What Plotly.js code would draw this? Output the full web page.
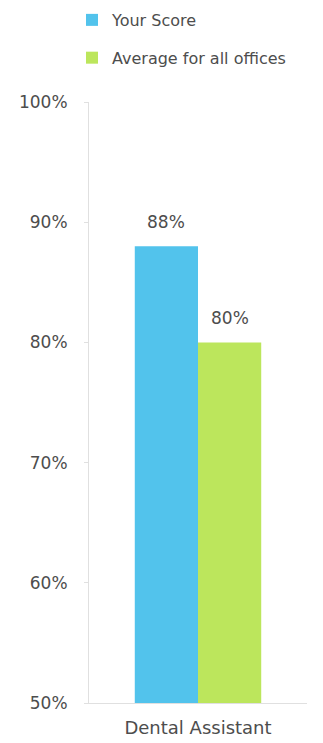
<!DOCTYPE html>
<html>
<head>
<meta charset="utf-8">
<script src="https://cdn.plot.ly/plotly-3.0.1.min.js"></script>
<style>html,body{margin:0;padding:0;background:#fff;}#chart{width:323px;height:743px;}</style>
</head>
<body>
<div id="chart"></div>
<script>
const categories = ["Dental Assistant"];
const seriesNames = ["Your Score", "Average for all offices"];
const yourScore = [88];
const averageAll = [80];
const yTickVals = [50, 60, 70, 80, 90, 100];
const yTickText = ["50%", "60%", "70%", "80%", "90%", "100%"];

const FONT = "'DejaVu Sans', sans-serif";
const TXT = "#4d4d4d";
const BARGAP = 0.42;
const PLOT_W = 323 - 89 - 16;
const halfBar = PLOT_W * (1 - BARGAP) / 4;

const traces = [
  {type: "bar", name: seriesNames[0], x: categories, y: yourScore,
   marker: {color: "#52C3EC"}, legendgroup: "a"},
  {type: "bar", name: seriesNames[1], x: categories, y: averageAll,
   marker: {color: "#BCE65C"}, legendgroup: "b"}
];
const annotations = [];
[yourScore, averageAll].forEach((arr, si) => {
  arr.forEach((v, i) => {
    annotations.push({x: categories[i], y: v, xref: "x", yref: "y", text: v + "%",
      showarrow: false, yanchor: "bottom", yshift: 12, xshift: (si === 0 ? -1 : 1) * halfBar,
      font: {family: FONT, size: 17, color: TXT}});
  });
});
const layout = {
  width: 323, height: 743,
  margin: {l: 89, r: 16, t: 102, b: 40},
  paper_bgcolor: "#fff", plot_bgcolor: "#fff",
  font: {family: FONT, color: TXT, size: 16},
  barmode: "group", bargap: BARGAP, bargroupgap: 0,
  showlegend: true,
  annotations: annotations,
  legend: {x: -0.078, xref: "paper", xanchor: "left", y: 0.996, yref: "container", yanchor: "top",
           orientation: "v", traceorder: "grouped", tracegroupgap: 14,
           font: {family: FONT, size: 16, color: TXT}, itemwidth: 30},
  xaxis: {showline: true, linecolor: "#e0e0e0", linewidth: 1, ticks: "", ticklabelstandoff: 8,
          tickfont: {family: FONT, size: 18, color: TXT}},
  yaxis: {range: [50, 100], tickvals: yTickVals, ticktext: yTickText, showgrid: false, zeroline: false,
          showline: true, linecolor: "#e0e0e0", linewidth: 1, ticks: "outside", ticklen: 4, tickcolor: "#e0e0e0",
          tickfont: {family: FONT, size: 17, color: TXT}, ticklabelstandoff: 13}
};
Plotly.newPlot("chart", traces, layout, {displayModeBar: false, staticPlot: true});
</script>
</body>
</html>
